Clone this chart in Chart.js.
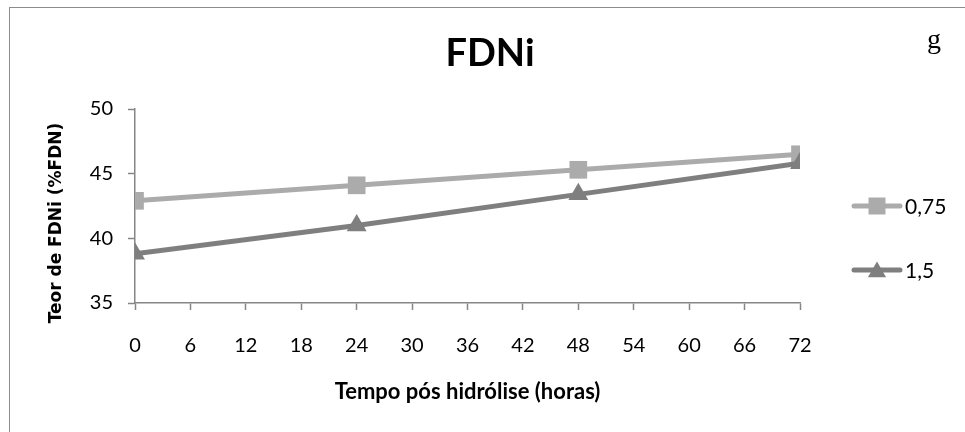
<!DOCTYPE html>
<html>
<head>
<meta charset="utf-8">
<script src="https://cdn.jsdelivr.net/npm/chart.js@4.4.1/dist/chart.umd.min.js"></script>
<style>
  body { margin: 0; background: #fff; }
  #wrap { position: relative; width: 965px; height: 432px; overflow: hidden; }
  #frame { position: absolute; left: 9px; top: 7px; width: 1000px; height: 500px; border: 1px solid #8c8c8c; }
  #chartLine { position: absolute; left: 0; top: 0; }
</style>
</head>
<body>
<div id="wrap">
  <div id="frame"></div>
  <canvas id="chartLine" width="965" height="432"></canvas>
</div>
<script>
const hours = [0, 24, 48, 72];
const dose075 = [42.9, 44.1, 45.3, 46.5];
const dose15 = [38.8, 41.0, 43.4, 45.8];
const seriesLabels = ['0,75', '1,5'];
const chartTitle = 'FDNi';
const panelLetter = 'g';
const xTitle = 'Tempo pós hidrólise (horas)';
const yTitle = 'Teor de FDNi (%FDN)';

const lightGray = '#ababab';
const darkGray = '#7f7f7f';
const axisGray = '#868686';

const toPoints = (values) => values.map((v, i) => ({ x: hours[i], y: v }));

// title, panel letter, y title and Excel-like legend
const decorPlugin = {
  id: 'decor',
  afterDraw(chart) {
    const ctx = chart.ctx;
    ctx.save();
    ctx.fillStyle = '#000';
    ctx.textAlign = 'center';
    ctx.textBaseline = 'middle';
    ctx.font = 'bold 38px Lato';
    ctx.fillText(chartTitle, 490, 54);

    ctx.font = '28px "Liberation Serif"';
    ctx.textBaseline = 'alphabetic';
    ctx.fillText(panelLetter, 934, 48);

    ctx.save();
    ctx.translate(57, 223);
    ctx.rotate(-Math.PI / 2);
    ctx.font = 'bold 17px "DejaVu Sans"';
    ctx.textBaseline = 'middle';
    ctx.fillText(yTitle, 0, 0);
    ctx.restore();

    const rows = [206, 270];
    chart.data.datasets.forEach((ds, i) => {
      const y = rows[i];
      ctx.strokeStyle = ds.borderColor;
      ctx.lineWidth = 5;
      ctx.lineCap = 'round';
      ctx.beginPath();
      ctx.moveTo(854, y);
      ctx.lineTo(900, y);
      ctx.stroke();
      ctx.fillStyle = ds.pointBackgroundColor;
      Chart.helpers.drawPoint(ctx, {
        pointStyle: ds.pointStyle, rotation: 0,
        radius: ds.pointStyle === 'rect' ? 12 : 10.5, borderWidth: 0
      }, 877, ds.pointStyle === 'rect' ? y : y + 2);
      ctx.fillStyle = '#000';
      ctx.font = '21px Lato';
      ctx.textAlign = 'left';
      ctx.textBaseline = 'middle';
      ctx.fillText(ds.label, 905, y + 1);
    });
    ctx.restore();
  }
};

const chartLine = new Chart(document.getElementById('chartLine'), {
  type: 'line',
  data: {
    datasets: [
      {
        label: seriesLabels[0],
        data: toPoints(dose075),
        borderColor: lightGray,
        backgroundColor: lightGray,
        pointBackgroundColor: lightGray,
        pointBorderColor: lightGray,
        pointStyle: 'rect',
        pointRadius: 12.5,
        pointBorderWidth: 0,
        borderWidth: 5,
        order: 2
      },
      {
        label: seriesLabels[1],
        data: toPoints(dose15),
        borderColor: darkGray,
        backgroundColor: darkGray,
        pointBackgroundColor: darkGray,
        pointBorderColor: darkGray,
        pointStyle: 'triangle',
        pointRadius: 11.5,
        pointBorderWidth: 0,
        borderWidth: 5,
        order: 1
      }
    ]
  },
  options: {
    responsive: false,
    animation: false,
    events: [],
    layout: { padding: { top: 109, right: 165, left: 0, bottom: 0 } },
    plugins: {
      legend: { display: false },
      tooltip: { enabled: false }
    },
    scales: {
      x: {
        type: 'linear',
        min: 0,
        max: 72,
        afterFit: (scale) => { scale.height = 129; },
        border: { display: true, color: axisGray, width: 1.5 },
        grid: { drawOnChartArea: false, drawTicks: true, tickLength: 7, color: axisGray, tickWidth: 1.5 },
        ticks: {
          stepSize: 6, autoSkip: false, maxRotation: 0,
          padding: 24, color: '#000', font: { family: 'Lato', size: 20 }
        },
        title: {
          display: true, text: xTitle, color: '#000',
          font: { family: 'Lato', size: 22, weight: 'bold' },
          padding: { top: 0, bottom: 27 }
        }
      },
      y: {
        min: 35,
        max: 50,
        afterFit: (scale) => { scale.width = 135; },
        border: { display: true, color: axisGray, width: 1.5 },
        grid: { drawOnChartArea: false, drawTicks: true, tickLength: 7, color: axisGray, tickWidth: 1.5 },
        ticks: {
          stepSize: 5, padding: 15, color: '#000',
          font: { family: 'Lato', size: 20 }
        }
      }
    }
  },
  plugins: [decorPlugin]
});
</script>
</body>
</html>
